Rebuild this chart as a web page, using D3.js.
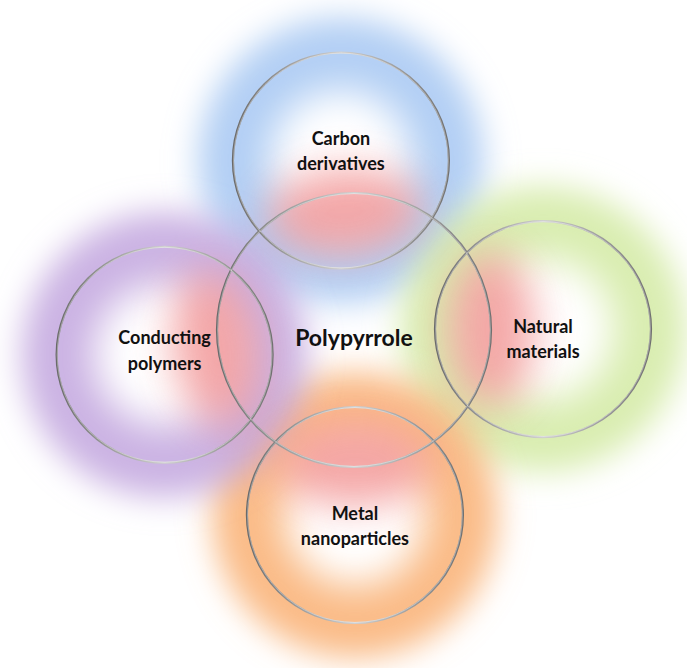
<!DOCTYPE html>
<html>
<head>
<meta charset="utf-8">
<script src="https://cdn.jsdelivr.net/npm/d3@7"></script>
<style>
  html, body { margin: 0; padding: 0; background: #fff; }
  svg { display: block; }
</style>
</head>
<body>
<svg id="chart"></svg>
<script>
// diagram content
const hub = 'Polypyrrole';
const branches = [['Carbon', 'derivatives'], ['Natural', 'materials'], ['Metal', 'nanoparticles'], ['Conducting', 'polymers']];
const ringColors = ['#a6c7f2', '#d3eaa4', '#f9b073', '#c2a6de'];
const glowColor = '#f39a9a';

class Diagram {
  constructor() {
    this.width = 687;
    this.height = 668;
    this.draw();
  }

  draw() {
    const cx = 354, cy = 330, hubR = 137, leafR = 108;
    // polar layout: angle from index, small hand nudges to follow the picture
    const angle = d3.scaleLinear().domain([0, 4]).range([-Math.PI / 2, 3 * Math.PI / 2]);
    const dist = [170, 189, 185, 191];
    const nudge = [-0.077, -0.005, -0.005, -0.13];
    const labelDy = [-10, 9, 10, -5];

    const nodes = branches.map((lines, i) => {
      const a = angle(i) + nudge[i];
      return {
        lines, i, a,
        x: cx + dist[i] * Math.cos(a),
        y: cy + dist[i] * Math.sin(a),
        color: ringColors[i]
      };
    });

    const svg = d3.select('#chart')
      .attr('width', this.width)
      .attr('height', this.height);

    const defs = svg.append('defs');

    const blur = defs.append('filter')
      .attr('id', 'soft')
      .attr('x', '-50%').attr('y', '-50%')
      .attr('width', '200%').attr('height', '200%');
    blur.append('feGaussianBlur').attr('stdDeviation', 13);

    const blur2 = defs.append('filter')
      .attr('id', 'softer')
      .attr('x', '-80%').attr('y', '-80%')
      .attr('width', '260%').attr('height', '260%');
    blur2.append('feGaussianBlur').attr('stdDeviation', 20);

    nodes.forEach(d => {
      const g = defs.append('radialGradient').attr('id', `ring${d.i}`);
      [[0, 0], [0.3, 0], [0.58, 0.86], [0.8, 0.86], [1, 0]].forEach(([o, op]) => {
        g.append('stop')
          .attr('offset', o)
          .attr('stop-color', d.color)
          .attr('stop-opacity', op);
      });
    });

    // metallic stroke: light at top and bottom, darker at the sides
    const metal = defs.append('linearGradient')
      .attr('id', 'metal')
      .attr('x1', 0).attr('y1', 0).attr('x2', 1).attr('y2', 0);
    [[0, '#6a6a6a'], [0.5, '#d0d0d0'], [1, '#707070']].forEach(([o, c]) => {
      metal.append('stop').attr('offset', o).attr('stop-color', c);
    });

    // coloured rings
    svg.append('g')
      .selectAll('circle')
      .data(nodes)
      .join('circle')
      .attr('cx', d => d.x)
      .attr('cy', d => d.y)
      .attr('r', leafR + 50)
      .attr('fill', d => `url(#ring${d.i})`)
      .attr('filter', 'url(#soft)');

    // reddish glow on the side facing the hub
    svg.append('g')
      .selectAll('ellipse')
      .data(nodes)
      .join('ellipse')
      .attr('transform', d => {
        const ox = d.x - Math.cos(d.a) * leafR * 0.48;
        const oy = d.y - Math.sin(d.a) * leafR * 0.48;
        return `translate(${ox},${oy}) rotate(${d.a * 180 / Math.PI})`;
      })
      .attr('rx', leafR * 0.4)
      .attr('ry', leafR * 0.72)
      .attr('fill', glowColor)
      .attr('opacity', 0.85)
      .attr('filter', 'url(#softer)');

    // outlines
    const outlines = svg.append('g')
      .attr('fill', 'none');

    const rings = [{ x: cx, y: cy, r: hubR }].concat(nodes.map(d => ({ x: d.x, y: d.y, r: leafR })));

    outlines.selectAll('circle.edge')
      .data(rings)
      .join('circle')
      .attr('class', 'edge')
      .attr('cx', d => d.x)
      .attr('cy', d => d.y)
      .attr('r', d => d.r)
      .attr('stroke', 'url(#metal)')
      .attr('stroke-width', 2.2);

    outlines.selectAll('circle.shine')
      .data(rings)
      .join('circle')
      .attr('class', 'shine')
      .attr('cx', d => d.x)
      .attr('cy', d => d.y)
      .attr('r', d => d.r - 0.6)
      .attr('stroke', '#ffffff')
      .attr('stroke-opacity', 0.55)
      .attr('stroke-width', 0.7);

    // labels
    const font = 'Lato, "Open Sans", sans-serif';
    const labels = svg.append('g')
      .attr('text-anchor', 'middle')
      .attr('font-family', font)
      .attr('font-weight', 700)
      .attr('fill', '#111');

    labels.append('text')
      .attr('x', cx)
      .attr('y', cy + 8)
      .attr('dy', '0.35em')
      .attr('font-size', 23)
      .text(hub);

    labels.selectAll('text.leaf')
      .data(nodes)
      .join('text')
      .attr('class', 'leaf')
      .attr('x', d => d.x)
      .attr('y', d => d.y + labelDy[d.i])
      .attr('font-size', 18)
      .selectAll('tspan')
      .data(d => d.lines.map((t, k) => ({ t, k })))
      .join('tspan')
      .attr('x', function () { return d3.select(this.parentNode).attr('x'); })
      .attr('dy', d => d.k === 0 ? '-0.3em' : '1.4em')
      .text(d => d.t);
  }
}

new Diagram();
</script>
</body>
</html>
